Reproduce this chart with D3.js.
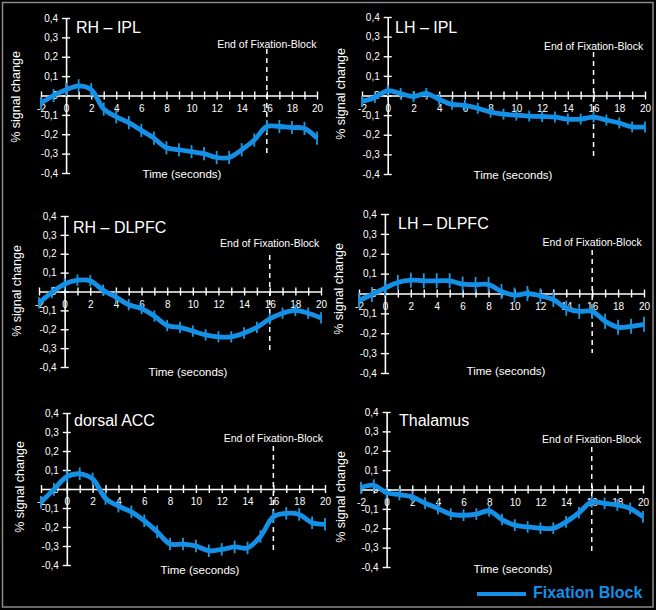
<!DOCTYPE html>
<html><head><meta charset="utf-8">
<script src="https://cdn.jsdelivr.net/npm/d3@7"></script>
<style>html,body{margin:0;padding:0;background:#000;}svg{display:block;}</style>
</head><body>
<script>
// ---- data ----
const times = [-2,-1,0,1,2,3,4,5,6,7,8,9,10,11,12,13,14,15,16,17,18,19,20];
const xTickLabels = [-2,0,2,4,6,8,10,12,14,16,18,20];
const yTickValues = [0.4,0.3,0.2,0.1,0,-0.1,-0.2,-0.3,-0.4];
const regions = ["RH \u2013 IPL","LH \u2013 IPL","RH \u2013 DLPFC","LH \u2013 DLPFC","dorsal ACC","Thalamus"];
const rhIPL   = [-0.04,0.0,0.03,0.05,0.03,-0.07,-0.11,-0.14,-0.18,-0.22,-0.27,-0.28,-0.29,-0.30,-0.32,-0.32,-0.28,-0.23,-0.16,-0.16,-0.165,-0.17,-0.22];
const lhIPL   = [-0.03,-0.01,0.025,0.01,-0.005,0.01,-0.02,-0.045,-0.05,-0.065,-0.085,-0.095,-0.10,-0.105,-0.107,-0.11,-0.12,-0.12,-0.11,-0.125,-0.14,-0.16,-0.16];
const rhDLPFC = [-0.06,-0.005,0.04,0.06,0.057,0.007,-0.03,-0.07,-0.09,-0.13,-0.18,-0.19,-0.21,-0.23,-0.24,-0.24,-0.22,-0.19,-0.145,-0.115,-0.10,-0.115,-0.14];
const lhDLPFC = [-0.035,-0.005,0.027,0.055,0.067,0.064,0.064,0.064,0.047,0.045,0.045,0.01,-0.008,0.0,-0.012,-0.03,-0.074,-0.09,-0.09,-0.14,-0.17,-0.165,-0.155];
const dACC    = [-0.07,-0.002,0.065,0.08,0.053,-0.05,-0.09,-0.12,-0.167,-0.225,-0.29,-0.29,-0.30,-0.325,-0.318,-0.305,-0.31,-0.25,-0.146,-0.128,-0.134,-0.178,-0.186];
const thalamus= [0.01,0.022,-0.017,-0.026,-0.038,-0.07,-0.098,-0.127,-0.133,-0.127,-0.11,-0.155,-0.184,-0.193,-0.20,-0.20,-0.167,-0.12,-0.064,-0.072,-0.08,-0.098,-0.141];
const errors  = [0.034,0.028,0.03,0.038,0.033,0.03];
const seriesList = [rhIPL,lhIPL,rhDLPFC,lhDLPFC,dACC,thalamus];
const blockEnd = 16;
const legendLabel = "Fixation Block";

// ---- layout (pixels) ----
const layout = [
  {xl:41, xr:317, yt:18,  yb:173, tx:76,  ty:33,  lx:16,  ly:97,  ax:182, ay:178, eb:48,  dt:49,  db:157},
  {xl:362,xr:645, yt:17,  yb:174, tx:395, ty:33,  lx:341, ly:94,  ax:513, ay:179, eb:50,  dt:52,  db:156},
  {xl:39, xr:321, yt:216, yb:367, tx:73,  ty:233, lx:17,  ly:291, ax:188, ay:376, eb:247, dt:255, db:354},
  {xl:359,xr:644, yt:214, yb:373, tx:398, ty:229, lx:339, ly:289, ax:506, ay:375, eb:246, dt:250, db:353},
  {xl:41, xr:325, yt:413, yb:565, tx:74,  ty:426, lx:20,  ly:487, ax:200, ay:574, eb:442, dt:446, db:550},
  {xl:361,xr:643, yt:412, yb:567, tx:399, ty:426, lx:341, ly:497, ax:513, ay:573, eb:443, dt:447, db:551}
];
const W=656, H=610;
const blue = "#1490e6";
const errBlue = "#1c9ade";
const font = "'Liberation Sans', Arial, Helvetica, sans-serif";

const svg = d3.select("body").append("svg").attr("width",W).attr("height",H)
  .style("font-family",font);
svg.append("rect").attr("width",W).attr("height",H).attr("fill","#000");
svg.append("rect").attr("x",2.5).attr("y",2.5).attr("width",W-5.5).attr("height",H-5.5)
  .attr("fill","none").attr("stroke","#8a8a8a").attr("stroke-width",1.5);

seriesList.forEach((vals,i)=>{
  const L = layout[i];
  const x = d3.scaleLinear().domain([-2,20]).range([L.xl,L.xr]);
  const y = d3.scaleLinear().domain([-0.4,0.4]).range([L.yb,L.yt]);
  const g = svg.append("g");

  // x axis at y=0
  const xAxis = d3.axisBottom(x).tickValues(times).tickSize(0).tickFormat(d=> xTickLabels.includes(d)? d : "");
  const gx = g.append("g").attr("transform",`translate(0,${y(0)})`).call(xAxis);
  gx.select(".domain").attr("stroke","#fff").attr("stroke-width",1.6);
  gx.selectAll(".tick line").attr("y1",-4).attr("y2",4).attr("stroke","#fff").attr("stroke-width",1.4);
  gx.selectAll(".tick text").attr("y",9).attr("dy","0.71em").attr("fill","#fff").attr("font-size",10).attr("font-family",font);

  // y axis at x=0
  const yAxis = d3.axisLeft(y).tickValues(yTickValues).tickSize(0)
    .tickFormat(d=> d===0 ? "0" : d3.format(".1f")(d).replace(".",",").replace("\u2212","-"));
  const gy = g.append("g").attr("transform",`translate(${x(0)},0)`).call(yAxis);
  gy.select(".domain").attr("stroke","#fff").attr("stroke-width",1.6);
  gy.selectAll(".tick line").attr("x1",-4).attr("x2",4).attr("stroke","#fff").attr("stroke-width",1.4);
  gy.selectAll(".tick text").attr("x",-8).attr("fill","#fff").attr("font-size",10).attr("font-family",font);

  // end of block dashed line
  g.append("line").attr("x1",x(blockEnd)).attr("x2",x(blockEnd)).attr("y1",L.dt).attr("y2",L.db)
    .attr("stroke","#fff").attr("stroke-width",1.5).attr("stroke-dasharray","5,4");
  g.append("text").attr("x",x(blockEnd)).attr("y",L.eb).attr("text-anchor","middle")
    .attr("fill","#fff").attr("font-size",10.5).text("End of Fixation-Block");

  // error bars
  const pts = times.map((t,k)=>({t, v:vals[k]}));
  g.selectAll("line.err").data(pts).enter().append("line").attr("class","err")
    .attr("x1",d=>x(d.t)).attr("x2",d=>x(d.t))
    .attr("y1",d=>y(d.v+errors[i])).attr("y2",d=>y(d.v-errors[i]))
    .attr("stroke",errBlue).attr("stroke-width",1.8);

  // line
  const line = d3.line().x(d=>x(d.t)).y(d=>y(d.v)).curve(d3.curveCatmullRom.alpha(0.5));
  g.append("path").datum(pts).attr("d",line).attr("fill","none")
    .attr("stroke",blue).attr("stroke-width",4.8).attr("stroke-linejoin","round");

  // titles
  g.append("text").attr("x",L.tx).attr("y",L.ty).attr("fill","#fff").attr("font-size",16).text(regions[i]);
  g.append("text").attr("transform",`translate(${L.lx},${L.ly}) rotate(-90)`).attr("text-anchor","middle")
    .attr("dy","0.35em").attr("fill","#fff").attr("font-size",12.5).text("% signal change");
  g.append("text").attr("x",L.ax).attr("y",L.ay).attr("text-anchor","middle")
    .attr("fill","#fff").attr("font-size",11.5).text("Time (seconds)");
});

// legend
svg.append("line").attr("x1",477).attr("x2",526).attr("y1",594).attr("y2",594)
  .attr("stroke",blue).attr("stroke-width",4);
svg.append("text").attr("x",533).attr("y",598).attr("fill",blue).attr("font-size",16)
  .attr("font-weight","bold").text(legendLabel);
</script>
</body></html>
